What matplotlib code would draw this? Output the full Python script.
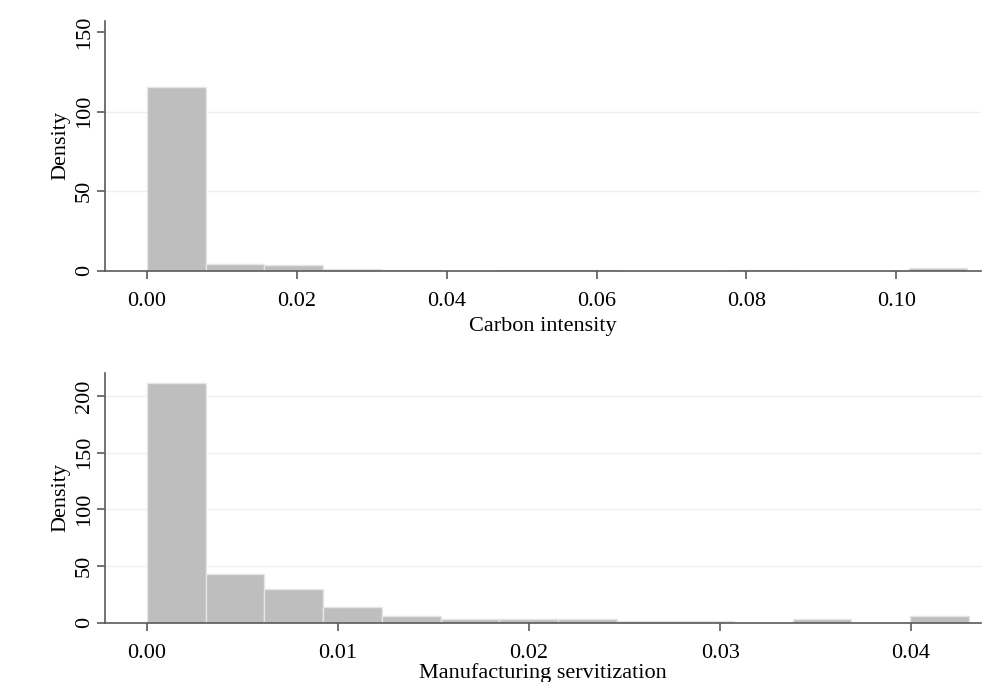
import matplotlib
matplotlib.use("Agg")
import matplotlib.pyplot as plt
import numpy as np

# histogram densities (14 equal-width bins starting at 0)
carbon_bin_width = 0.00782
carbon_density = [115.4, 4.0, 3.4, 0.8, 0.2, 0.0, 0.5, 0.5, 0.0, 0.0, 0.5, 0.0, 0.0, 1.7]
carbon_ticks = [0.00, 0.02, 0.04, 0.06, 0.08, 0.10]
carbon_yticks = [0, 50, 100, 150]
carbon_grid = [50, 100]

serv_bin_width = 0.003073
serv_density = [211.0, 42.5, 30.0, 13.3, 5.9, 3.0, 3.0, 3.0, 1.0, 1.0, 0.0, 3.0, 0.0, 6.2]
serv_ticks = [0.00, 0.01, 0.02, 0.03, 0.04]
serv_yticks = [0, 50, 100, 150, 200]
serv_grid = [50, 100, 150, 200]

plt.rcParams['font.family'] = ['Liberation Serif', 'DejaVu Serif']

bar_color = '#bebebe'
edge_color = '#e6e6e6'
axis_color = '#5a5a5a'
fs = 16


def hist_panel(ax, width, density, xticks, yticks, grid, xlim, ylim, xlabel, lpad):
    edges = np.arange(len(density) + 1) * width
    ax.bar(edges[:-1], density, width=width, align='edge',
           color=bar_color, edgecolor=edge_color, linewidth=1.0, zorder=2)
    ax.set_xlim(*xlim)
    ax.set_ylim(*ylim)
    ax.set_xticks(xticks)
    ax.set_xticklabels(['%.2f' % t for t in xticks])
    ax.set_yticks(yticks)
    ax.set_yticklabels([str(t) for t in yticks], rotation=90, va='center')
    for y in grid:
        ax.axhline(y, color='#efefef', linewidth=1.0, zorder=1)
    for s in ['top', 'right']:
        ax.spines[s].set_visible(False)
    for s in ['left', 'bottom']:
        ax.spines[s].set_color(axis_color)
        ax.spines[s].set_linewidth(1.2)
    ax.tick_params(axis='both', colors=axis_color, labelcolor='black',
                   length=6, width=1.2, labelsize=fs)
    ax.tick_params(axis='x', pad=9.5)
    ax.tick_params(axis='y', pad=2)
    ax.set_xlabel(xlabel, fontsize=fs, labelpad=lpad)
    ax.set_ylabel('Density', fontsize=fs, labelpad=3)


fig = plt.figure(figsize=(10.03, 6.82), dpi=100)
ax1 = fig.add_axes([0.1047, 0.603, 0.8734, 0.3666])
ax2 = fig.add_axes([0.1047, 0.0872, 0.8734, 0.3662])

hist_panel(ax1, carbon_bin_width, carbon_density, carbon_ticks, carbon_yticks,
           carbon_grid, (-0.0056, 0.1113), (0, 157.3), 'Carbon intensity', 4)
hist_panel(ax2, serv_bin_width, serv_density, serv_ticks, serv_yticks,
           serv_grid, (-0.0022, 0.04366), (0, 220.4), 'Manufacturing servitization', 0)

fig.savefig('out.png', dpi=100)
